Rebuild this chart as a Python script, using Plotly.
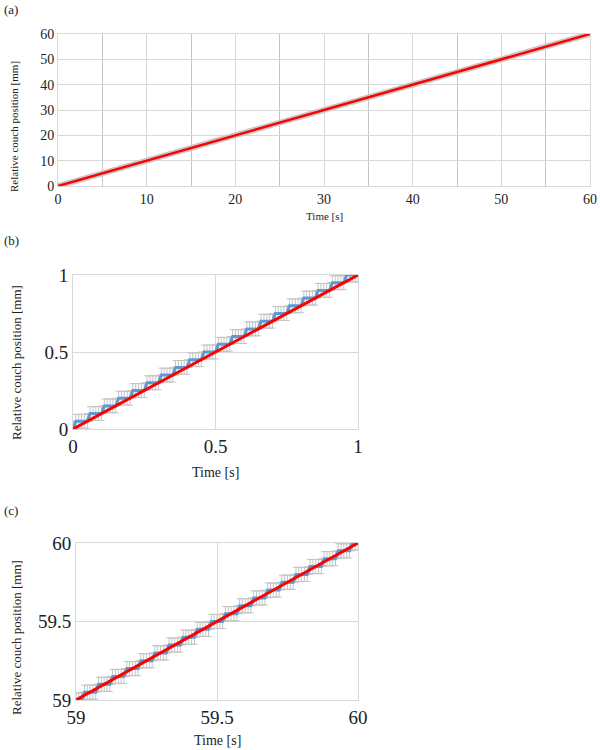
import plotly.graph_objects as go

# ---------------- data ----------------
# Panel (a): full 60 s run
a_time = [0, 5, 10, 15, 20, 25, 30, 35, 40, 45, 50, 55, 60]
a_measured = [0, 5, 10, 15, 20, 25, 30, 35, 40, 45, 50, 55, 60]
a_ideal_time = [0, 60]
a_ideal_pos = [0, 60]

# Panel (b): first second
b_time = [0.00,
          0.01, 0.02, 0.03, 0.04, 0.05, 0.06, 0.07, 0.08, 0.09, 0.10,
          0.11, 0.12, 0.13, 0.14, 0.15, 0.16, 0.17, 0.18, 0.19, 0.20,
          0.21, 0.22, 0.23, 0.24, 0.25, 0.26, 0.27, 0.28, 0.29, 0.30,
          0.31, 0.32, 0.33, 0.34, 0.35, 0.36, 0.37, 0.38, 0.39, 0.40,
          0.41, 0.42, 0.43, 0.44, 0.45, 0.46, 0.47, 0.48, 0.49, 0.50,
          0.51, 0.52, 0.53, 0.54, 0.55, 0.56, 0.57, 0.58, 0.59, 0.60,
          0.61, 0.62, 0.63, 0.64, 0.65, 0.66, 0.67, 0.68, 0.69, 0.70,
          0.71, 0.72, 0.73, 0.74, 0.75, 0.76, 0.77, 0.78, 0.79, 0.80,
          0.81, 0.82, 0.83, 0.84, 0.85, 0.86, 0.87, 0.88, 0.89, 0.90,
          0.91, 0.92, 0.93, 0.94, 0.95, 0.96, 0.97, 0.98, 0.99, 1.00]
b_measured = [0.00,
              0.05, 0.05, 0.05, 0.05, 0.05, 0.10, 0.10, 0.10, 0.10, 0.10,
              0.15, 0.15, 0.15, 0.15, 0.15, 0.20, 0.20, 0.20, 0.20, 0.20,
              0.25, 0.25, 0.25, 0.25, 0.25, 0.30, 0.30, 0.30, 0.30, 0.30,
              0.35, 0.35, 0.35, 0.35, 0.35, 0.40, 0.40, 0.40, 0.40, 0.40,
              0.45, 0.45, 0.45, 0.45, 0.45, 0.50, 0.50, 0.50, 0.50, 0.50,
              0.55, 0.55, 0.55, 0.55, 0.55, 0.60, 0.60, 0.60, 0.60, 0.60,
              0.65, 0.65, 0.65, 0.65, 0.65, 0.70, 0.70, 0.70, 0.70, 0.70,
              0.75, 0.75, 0.75, 0.75, 0.75, 0.80, 0.80, 0.80, 0.80, 0.80,
              0.85, 0.85, 0.85, 0.85, 0.85, 0.90, 0.90, 0.90, 0.90, 0.90,
              0.95, 0.95, 0.95, 0.95, 0.95, 1.00, 1.00, 1.00, 1.00, 1.00]
b_ideal_time = [0, 1]
b_ideal_pos = [0, 1]

# Panel (c): last second
c_time = [59.00, 59.01, 59.02,
          59.03, 59.04, 59.05, 59.06, 59.07, 59.08, 59.09, 59.10, 59.11, 59.12,
          59.13, 59.14, 59.15, 59.16, 59.17, 59.18, 59.19, 59.20, 59.21, 59.22,
          59.23, 59.24, 59.25, 59.26, 59.27, 59.28, 59.29, 59.30, 59.31, 59.32,
          59.33, 59.34, 59.35, 59.36, 59.37, 59.38, 59.39, 59.40, 59.41, 59.42,
          59.43, 59.44, 59.45, 59.46, 59.47, 59.48, 59.49, 59.50, 59.51, 59.52,
          59.53, 59.54, 59.55, 59.56, 59.57, 59.58, 59.59, 59.60, 59.61, 59.62,
          59.63, 59.64, 59.65, 59.66, 59.67, 59.68, 59.69, 59.70, 59.71, 59.72,
          59.73, 59.74, 59.75, 59.76, 59.77, 59.78, 59.79, 59.80, 59.81, 59.82,
          59.83, 59.84, 59.85, 59.86, 59.87, 59.88, 59.89, 59.90, 59.91, 59.92,
          59.93, 59.94, 59.95, 59.96, 59.97, 59.98, 59.99, 60.00]
c_measured = [59.00, 59.00, 59.00,
              59.05, 59.05, 59.05, 59.05, 59.05, 59.10, 59.10, 59.10, 59.10, 59.10,
              59.15, 59.15, 59.15, 59.15, 59.15, 59.20, 59.20, 59.20, 59.20, 59.20,
              59.25, 59.25, 59.25, 59.25, 59.25, 59.30, 59.30, 59.30, 59.30, 59.30,
              59.35, 59.35, 59.35, 59.35, 59.35, 59.40, 59.40, 59.40, 59.40, 59.40,
              59.45, 59.45, 59.45, 59.45, 59.45, 59.50, 59.50, 59.50, 59.50, 59.50,
              59.55, 59.55, 59.55, 59.55, 59.55, 59.60, 59.60, 59.60, 59.60, 59.60,
              59.65, 59.65, 59.65, 59.65, 59.65, 59.70, 59.70, 59.70, 59.70, 59.70,
              59.75, 59.75, 59.75, 59.75, 59.75, 59.80, 59.80, 59.80, 59.80, 59.80,
              59.85, 59.85, 59.85, 59.85, 59.85, 59.90, 59.90, 59.90, 59.90, 59.90,
              59.95, 59.95, 59.95, 59.95, 59.95, 60.00, 60.00, 60.00]
c_ideal_time = [59, 60]
c_ideal_pos = [59, 60]

pos_error_mm = 0.045
time_error_s = 0.02

# ---------------- styling ----------------
FONT = "Liberation Serif, Times New Roman, serif"
GRID = "#d9d9d9"
ERR = "#c4c4c4"
BLUE = "#5b9bd5"
RED = "#ff0000"

fig = go.Figure()

# Panel (a)
fig.add_trace(go.Scatter(x=a_time, y=a_measured, mode="lines",
                         line=dict(color="#c8c8c8", width=6),
                         xaxis="x", yaxis="y", showlegend=False))
fig.add_trace(go.Scatter(x=a_ideal_time, y=a_ideal_pos, mode="lines",
                         line=dict(color=RED, width=2.5),
                         xaxis="x", yaxis="y", showlegend=False))


def add_detail(t, m, it, ip, xa, ya):
    fig.add_trace(go.Scatter(
        x=t, y=m, mode="markers", marker=dict(size=1, color="rgba(0,0,0,0)"),
        error_y=dict(type="constant", value=pos_error_mm, color=ERR, thickness=1, width=3),
        error_x=dict(type="constant", value=time_error_s, color=ERR, thickness=1, width=0),
        xaxis=xa, yaxis=ya, showlegend=False, hoverinfo="skip"))
    fig.add_trace(go.Scatter(x=t, y=m, mode="lines",
                             line=dict(color=BLUE, width=3),
                             xaxis=xa, yaxis=ya, showlegend=False))
    fig.add_trace(go.Scatter(x=it, y=ip, mode="lines",
                             line=dict(color=RED, width=3),
                             xaxis=xa, yaxis=ya, showlegend=False))


add_detail(b_time, b_measured, b_ideal_time, b_ideal_pos, "x2", "y2")
add_detail(c_time, c_measured, c_ideal_time, c_ideal_pos, "x3", "y3")

# page body margin is removed (post_script) so figure pixels == page pixels
W, H = 600, 750


def px(x):
    return x / W


def py(y):
    return 1 - y / H


def axis(domain, anchor, rng, vals, text, size, **extra):
    d = dict(domain=domain, anchor=anchor, range=rng, tickvals=vals,
             ticktext=text, automargin=False,
             showgrid=True, gridcolor=GRID, gridwidth=1, zeroline=False,
             showline=True, linecolor=GRID, linewidth=1, mirror=True,
             ticks="", tickfont=dict(family=FONT, size=size, color="#222"))
    d.update(extra)
    return d


fig.update_layout(
    template="none",
    width=W, height=H, margin=dict(l=0, r=0, t=0, b=0, pad=0),
    paper_bgcolor="white", plot_bgcolor="white",
    font=dict(family=FONT, color="#222"),
    showlegend=False,
    xaxis=axis([px(58), px(590)], "y", [0, 60],
               [0, 10, 20, 30, 40, 50, 60], ["0", "10", "20", "30", "40", "50", "60"], 14,
               minor=dict(tickvals=[5, 15, 25, 35, 45, 55], showgrid=True,
                          gridcolor="#c4c4c4", gridwidth=1, ticks="")),
    yaxis=axis([py(186), py(34)], "x", [0, 60],
               [0, 10, 20, 30, 40, 50, 60], ["0", "10", "20", "30", "40", "50", "60"], 14),
    xaxis2=axis([px(73), px(358)], "y2", [0, 1], [0, 0.5, 1], ["0", "0.5", "1"], 19),
    yaxis2=axis([py(429), py(275)], "x2", [0, 1], [0, 0.5, 1], ["0", "0.5", "1"], 19),
    xaxis3=axis([px(76), px(358)], "y3", [59, 60], [59, 59.5, 60], ["59", "59.5", "60"], 19),
    yaxis3=axis([py(700), py(543)], "x3", [59, 60], [59, 59.5, 60], ["59", "59.5", "60"], 19),
)


def label(text, x, y, size, angle=0, xanchor="center"):
    fig.add_annotation(text=text, x=px(x), y=py(y), xref="paper", yref="paper",
                       showarrow=False, textangle=angle, xanchor=xanchor,
                       yanchor="middle",
                       font=dict(family=FONT, size=size, color="#222"))


label("(a)", 2, 10, 13, xanchor="left")
label("(b)", 2, 240, 13, xanchor="left")
label("(c)", 2, 510, 13, xanchor="left")

label("Relative couch position [mm]", 14, 127, 11, angle=-90)
label("Time [s]", 324, 216, 11)

label("Relative couch position [mm]", 16, 363, 13, angle=-90)
label("Time [s]", 215, 472, 14)

label("Relative couch position [mm]", 16, 638, 13, angle=-90)
label("Time [s]", 217, 740, 14)

fig.write_html(
    "out.html",
    config={"displayModeBar": False},
    post_script="document.body.style.margin='0';document.body.style.overflow='hidden';",
)
